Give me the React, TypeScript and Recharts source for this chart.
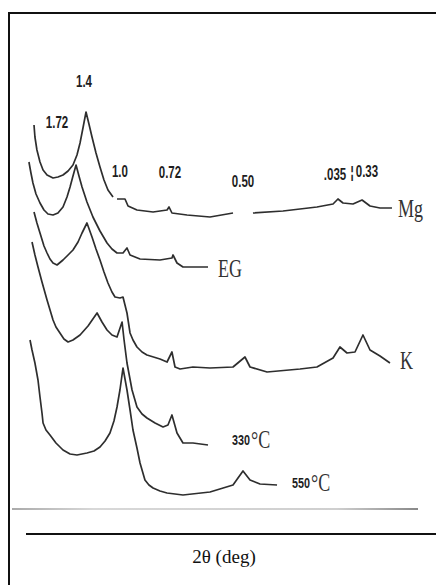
import React from "react";
import { LineChart, Line, XAxis, YAxis, ReferenceDot } from "recharts";

// 2θ (deg) positions and relative intensities (a.u., stacked traces)
const mgTheta = [2.38, 2.45, 2.6, 2.83, 3.06, 3.36, 3.81, 4.18, 4.56, 4.94, 5.31, 5.61, 5.84, 6.06, 6.29, 6.51, 6.74, 7.04, 7.34, 7.64, 7.94, 8.32, 8.47, 8.62, 9.22, 9.45, 10.12, 11.33, 12.38, 12.53, 12.75, 13.88, 15.61, 17.34, 18.0, 18.84, 21.1, 23.65, 24.86, 25.23, 25.61, 26.36, 27.04, 27.64, 28.39, 29.29];
const mgInt = [77.0, 74.6, 72.0, 69.6, 68.0, 67.0, 66.4, 66.6, 67.0, 67.8, 69.0, 71.0, 73.4, 76.4, 79.6, 77.2, 74.6, 71.4, 68.6, 66.0, 64.0, 62.6, null, 62.2, 62.2, 60.8, 60.0, 59.6, 60.0, 60.6, 59.4, 59.0, 58.6, 59.4, null, 59.4, 59.8, 60.6, 61.2, 62.2, 61.4, 61.2, 62.0, 60.8, 60.4, 60.4];

const egTheta = [2.0, 2.15, 2.3, 2.53, 2.83, 3.13, 3.43, 3.81, 4.18, 4.56, 4.86, 5.09, 5.31, 5.54, 5.76, 5.99, 6.36, 6.81, 7.34, 7.87, 8.24, 8.62, 9.07, 9.37, 9.6, 10.35, 11.85, 12.75, 12.83, 13.13, 13.58, 15.46];
const egInt = [69.6, 67.4, 65.4, 63.2, 61.4, 60.0, 59.2, 59.0, 59.4, 60.6, 62.6, 64.6, 66.8, 69.0, 66.8, 64.6, 61.6, 58.6, 55.8, 53.4, 52.2, 51.4, 51.4, 52.4, 51.0, 50.2, 50.0, 50.4, 51.0, 49.4, 48.6, 48.6];

const kTheta = [2.38, 2.6, 2.83, 3.13, 3.36, 3.58, 3.81, 4.11, 4.56, 4.94, 5.31, 5.69, 5.99, 6.36, 6.74, 7.04, 7.34, 7.64, 7.94, 8.24, 8.47, 8.84, 9.07, 9.22, 9.37, 9.6, 9.82, 10.12, 10.5, 10.87, 11.85, 12.38, 12.75, 12.98, 13.36, 14.33, 15.61, 17.34, 18.24, 18.62, 19.9, 22.38, 23.65, 24.86, 25.38, 25.91, 26.51, 27.11, 27.64, 28.39, 29.14];
const kInt = [59.6, 57.4, 55.4, 52.8, 51.4, 50.2, 49.4, 49.0, 50.0, 51.0, 52.0, 53.6, 55.4, 57.4, 54.6, 52.2, 50.0, 47.6, 45.4, 43.6, 42.6, 42.4, 42.6, 41.0, 39.4, 35.4, 34.0, 32.6, 31.6, 31.0, 30.2, 29.6, 31.6, 28.6, 28.2, 28.6, 28.4, 28.6, 30.6, 28.6, 27.6, 28.2, 28.6, 30.4, 32.6, 31.4, 31.6, 35.0, 32.0, 30.8, 29.4];

const t330Theta = [2.23, 2.45, 2.68, 2.98, 3.36, 3.81, 4.03, 4.33, 4.63, 4.94, 5.31, 5.84, 6.44, 7.12, 7.49, 7.87, 8.24, 8.62, 9.0, 9.15, 9.37, 9.75, 10.12, 10.5, 10.87, 11.48, 12.08, 12.45, 12.75, 13.13, 13.58, 14.33, 15.46];
const t330Int = [53.6, 51.0, 48.6, 45.6, 42.0, 38.0, 36.6, 35.4, 34.2, 33.6, 34.0, 35.0, 36.8, 39.4, 37.6, 36.0, 35.0, 34.6, 37.6, 34.0, 29.4, 24.0, 20.6, 19.2, 18.4, 17.4, 16.6, 17.0, 19.0, 15.4, 13.4, 13.4, 13.0];

const t550Theta = [2.08, 2.23, 2.45, 2.68, 2.83, 2.98, 3.06, 3.28, 3.58, 4.03, 4.56, 5.09, 5.61, 6.36, 6.89, 7.34, 7.72, 8.09, 8.39, 8.62, 8.84, 9.07, 9.37, 9.6, 9.82, 10.12, 10.35, 10.72, 11.02, 11.33, 11.85, 12.38, 13.58, 15.61, 17.34, 18.09, 18.62, 19.37, 20.65];
const t550Int = [34.0, 32.0, 29.4, 26.0, 22.6, 19.4, 17.4, 16.0, 15.0, 13.4, 12.0, 11.2, 11.0, 11.4, 11.8, 12.6, 13.8, 15.4, 17.8, 20.6, 24.0, 28.4, 24.0, 20.0, 16.0, 12.4, 9.4, 6.0, 5.0, 4.4, 3.8, 3.4, 3.0, 3.6, 5.0, 7.8, 6.0, 5.2, 5.0];

// d-spacing annotations (nm)
const peakLabels = ["1.72", "1.4", "1.0", "0.72", "0.50", ".035", "¦", "0.33"];
const peakLabelTheta = [4.11, 6.14, 8.84, 12.6, 18.09, 25.01, 26.29, 27.41];
const peakLabelInt = [76.4, 84.6, 66.6, 66.4, 64.6, 66.0, 66.4, 66.6];

// trace names
const traceNames = ["Mg", "EG", "K", "330", "550"];
const traceNameTheta = [29.74, 16.21, 29.89, 17.26, 21.78];
const traceNameInt = [58.6, 46.6, 28.2, 13.0, 4.4];
const traceUnit = ["", "", "", "°C", "°C"];

const zip = (t: number[], v: (number | null)[]) => t.map((x, i) => ({ t: x, v: v[i] }));

const series = [
  { key: "Mg", data: zip(mgTheta, mgInt) },
  { key: "EG", data: zip(egTheta, egInt) },
  { key: "K", data: zip(kTheta, kInt) },
  { key: "330", data: zip(t330Theta, t330Int) },
  { key: "550", data: zip(t550Theta, t550Int) },
];

const INK = "#2e2e2e";

const PeakText = (label: string) => (p: any) => (
  <text
    transform={`translate(${p.cx},${p.cy}) scale(0.72,1)`}
    textAnchor="middle"
    fontFamily="'Liberation Sans', Arial, sans-serif"
    fontWeight="bold"
    fontSize={16}
    fill="#1e1e1e"
  >
    {label}
  </text>
);

const NameText = (label: string, unit: string) => (p: any) => {
  if (!unit) {
    return (
      <text
        transform={`translate(${p.cx},${p.cy}) scale(0.72,1)`}
        textAnchor="start"
        fontFamily="'Liberation Serif', 'Times New Roman', serif"
        fontSize={25}
        fill="#333"
      >
        {label}
      </text>
    );
  }
  return (
    <g>
      <text
        transform={`translate(${p.cx},${p.cy}) scale(0.72,1)`}
        textAnchor="start"
        fontFamily="'Liberation Sans', Arial, sans-serif"
        fontWeight="bold"
        fontSize={15}
        fill="#1e1e1e"
      >
        {label}
      </text>
      <text
        transform={`translate(${p.cx + 19},${p.cy + 3}) scale(0.72,1)`}
        textAnchor="start"
        fontFamily="'Liberation Serif', 'Times New Roman', serif"
        fontSize={25}
        fill="#333"
      >
        {unit}
      </text>
    </g>
  );
};

export default function App() {
  return (
    <div
      style={{
        position: "absolute",
        left: 0,
        top: 0,
        width: 436,
        height: 585,
        overflow: "hidden",
        background: "#fff",
      }}
    >
      <div
        style={{
          position: "absolute",
          left: 8,
          top: 12,
          width: 450,
          height: 600,
          borderLeft: "2px solid #111",
          borderTop: "2px solid #111",
          boxShadow: "0 1px 0 #999",
        }}
      />
      <div style={{ position: "absolute", left: 9, top: 13 }}>
        <LineChart width={427} height={497} margin={{ top: 0, right: 0, bottom: 0, left: 0 }}>
          <XAxis type="number" dataKey="t" domain={[0.5, 32.6]} allowDataOverflow hide />
          <YAxis type="number" dataKey="v" domain={[0, 99.4]} allowDataOverflow hide />
          {series.map((s) => (
            <Line
              key={s.key}
              data={s.data}
              dataKey="v"
              type="linear"
              stroke={INK}
              strokeWidth={1.7}
              strokeLinejoin="round"
              dot={false}
              activeDot={false}
              isAnimationActive={false}
              connectNulls={false}
            />
          ))}
          {peakLabels.map((l, i) => (
            <ReferenceDot
              key={"p" + i}
              x={peakLabelTheta[i]}
              y={peakLabelInt[i]}
              r={0}
              ifOverflow="visible"
              shape={PeakText(l)}
            />
          ))}
          {traceNames.map((l, i) => (
            <ReferenceDot
              key={"n" + i}
              x={traceNameTheta[i]}
              y={traceNameInt[i]}
              r={0}
              ifOverflow="visible"
              shape={NameText(l, traceUnit[i])}
            />
          ))}
        </LineChart>
      </div>
      <div
        style={{
          position: "absolute",
          left: 12,
          top: 508,
          width: 406,
          height: 2,
          background: "linear-gradient(to right, #aaa, #d8d8d8 20%, #cfcfcf 80%, #888)",
        }}
      />
      <div
        style={{
          position: "absolute",
          left: 26,
          top: 533,
          width: 410,
          height: 2,
          background: "#111",
        }}
      />
      <div
        style={{
          position: "absolute",
          left: 124,
          top: 546,
          width: 200,
          textAlign: "center",
          fontFamily: "'Liberation Serif', 'Times New Roman', serif",
          fontSize: 19,
          color: "#111",
        }}
      >
        2θ (deg)
      </div>
    </div>
  );
}
